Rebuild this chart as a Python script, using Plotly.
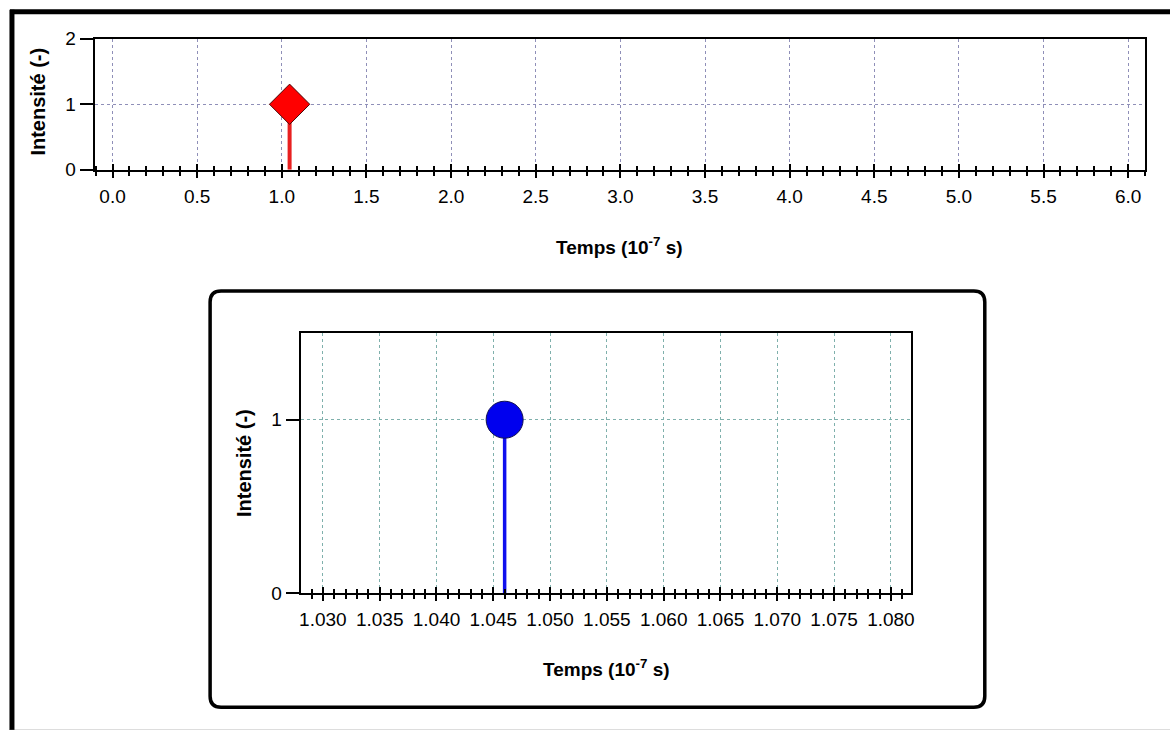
import plotly.graph_objects as go

# ---- data ----
top_time = [1.046]          # 10^-7 s
top_intensity = [1.0]
inset_time = [1.046]
inset_intensity = [1.0]

x_title = "Temps (10<sup>-7</sup> s)"
y_title = "Intensité (-)"

W, H = 1173, 745
def px(x):
    return x / W
def py(y):
    # target screen y (pixels from top) -> paper fraction
    yin = (y - 8.3) / 0.971
    return 1 - yin / H

FONT = "Liberation Sans, Arial, sans-serif"
top_grid = "#8f8fb8"
inset_grid = "#7fb0ac"

fig = go.Figure()

# stems (built from data)
for t, v in zip(top_time, top_intensity):
    fig.add_trace(go.Scatter(x=[t, t], y=[0, v], mode="lines",
                             line=dict(color="#e82020", width=4),
                             xaxis="x", yaxis="y", showlegend=False, hoverinfo="skip"))
fig.add_trace(go.Scatter(x=top_time, y=top_intensity, mode="markers",
                         marker=dict(symbol="diamond", size=31, color="#ff0000",
                                     line=dict(color="#4a0808", width=1)),
                         xaxis="x", yaxis="y", showlegend=False))

for t, v in zip(inset_time, inset_intensity):
    fig.add_trace(go.Scatter(x=[t, t], y=[0, v], mode="lines",
                             line=dict(color="#1010ee", width=3.5),
                             xaxis="x2", yaxis="y2", showlegend=False, hoverinfo="skip"))
fig.add_trace(go.Scatter(x=inset_time, y=inset_intensity, mode="markers",
                         marker=dict(symbol="circle", size=37, color="#0000ee",
                                     line=dict(color="#101050", width=1)),
                         xaxis="x2", yaxis="y2", showlegend=False))

# placeholder traces for the overlay tick axes (inner half of crossing ticks)
fig.add_trace(go.Scatter(x=[None], y=[None], xaxis="x3", yaxis="y", showlegend=False))
fig.add_trace(go.Scatter(x=[None], y=[None], xaxis="x4", yaxis="y2", showlegend=False))

top_xrange = [-0.106, 6.1]
inset_xrange = [1.02805, 1.08178]

tickfont = dict(family=FONT, size=19, color="black")

fig.update_layout(
    width=W, height=H,
    margin=dict(l=0, r=0, t=0, b=0),
    paper_bgcolor="white", plot_bgcolor="white",
    showlegend=False,
    xaxis=dict(domain=[px(93), px(1148)], range=top_xrange, anchor="y",
               tick0=0, dtick=0.5, tickformat=".1f",
               ticks="outside", ticklen=6, tickwidth=2, tickcolor="black",
               minor=dict(ticks="outside", ticklen=4, tickwidth=2, dtick=0.1, tick0=0,
                          tickcolor="black", showgrid=False),
               showline=True, linewidth=2, linecolor="black", mirror=True,
               showgrid=True, gridcolor=top_grid, griddash="dot", gridwidth=1,
               zeroline=False, tickfont=tickfont, ticklabelstandoff=2),
    yaxis=dict(domain=[py(168), py(37)], range=[0, 2], anchor="x",
               tick0=0, dtick=1,
               ticks="outside", ticklen=13, tickwidth=2, tickcolor="black",
               showline=True, linewidth=2, linecolor="black", mirror=True,
               showgrid=True, gridcolor=top_grid, griddash="dot", gridwidth=1,
               zeroline=False, tickfont=tickfont),
    xaxis3=dict(overlaying="x", anchor="y", range=top_xrange,
                tick0=0, dtick=0.5, ticks="inside", ticklen=6, tickwidth=2, tickcolor="black",
                minor=dict(ticks="inside", ticklen=4, tickwidth=2, dtick=0.1, tick0=0,
                           tickcolor="black", showgrid=False),
                showticklabels=False, showline=False, showgrid=False, zeroline=False),
    xaxis2=dict(domain=[px(300), px(913)], range=inset_xrange, anchor="y2",
                tick0=1.03, dtick=0.005, tickformat=".3f",
                ticks="outside", ticklen=6, tickwidth=2, tickcolor="black",
                minor=dict(ticks="outside", ticklen=4, tickwidth=2, dtick=0.001, tick0=1.03,
                           tickcolor="black", showgrid=False),
                showline=True, linewidth=2, linecolor="black", mirror=True,
                showgrid=True, gridcolor=inset_grid, griddash="dot", gridwidth=1,
                zeroline=False, tickfont=tickfont, ticklabelstandoff=2),
    yaxis2=dict(domain=[py(591), py(331)], range=[0, 1.5], anchor="x2",
                tickvals=[0, 1], ticktext=["0", "1"],
                ticks="outside", ticklen=13, tickwidth=2, tickcolor="black",
                showline=True, linewidth=2, linecolor="black", mirror=True,
                showgrid=True, gridcolor=inset_grid, griddash="dot", gridwidth=1,
                zeroline=False, tickfont=tickfont),
    xaxis4=dict(overlaying="x2", anchor="y2", range=inset_xrange,
                tick0=1.03, dtick=0.005, ticks="inside", ticklen=6, tickwidth=2, tickcolor="black",
                minor=dict(ticks="inside", ticklen=4, tickwidth=2, dtick=0.001, tick0=1.03,
                           tickcolor="black", showgrid=False),
                showticklabels=False, showline=False, showgrid=False, zeroline=False),
)

xt_font = dict(family=FONT, size=19, color="black")
yt_font = dict(family=FONT, size=20, color="black")
anns = [
    dict(x=px(620), y=py(244), text="<b>" + x_title + "</b>", textangle=0, font=xt_font),
    dict(x=px(607), y=py(666), text="<b>" + x_title + "</b>", textangle=0, font=xt_font),
    dict(x=px(36), y=py(100), text="<b>" + y_title + "</b>", textangle=-90, font=yt_font),
    dict(x=px(243), y=py(461), text="<b>" + y_title + "</b>", textangle=-90, font=yt_font),
]
for a in anns:
    fig.add_annotation(xref="paper", yref="paper", showarrow=False,
                       xanchor="center", yanchor="middle", **a)

# outer frame
fig.add_shape(type="line", xref="paper", yref="paper",
              x0=px(8), x1=1, y0=py(10), y1=py(10), line=dict(color="black", width=5))
fig.add_shape(type="line", xref="paper", yref="paper",
              x0=px(10), x1=px(10), y0=py(8), y1=py(729), line=dict(color="black", width=5))
fig.add_shape(type="line", xref="paper", yref="paper",
              x0=px(8), x1=1, y0=py(728.5), y1=py(728.5), line=dict(color="#777777", width=2))

# inset rounded box
L, R, T, B, r = 209, 987, 289, 705, 11
path = (f"M {px(L + r)},{py(T)} L {px(R - r)},{py(T)} Q {px(R)},{py(T)} {px(R)},{py(T + r)} "
        f"L {px(R)},{py(B - r)} Q {px(R)},{py(B)} {px(R - r)},{py(B)} "
        f"L {px(L + r)},{py(B)} Q {px(L)},{py(B)} {px(L)},{py(B - r)} "
        f"L {px(L)},{py(T + r)} Q {px(L)},{py(T)} {px(L + r)},{py(T)} Z")
fig.add_shape(type="path", xref="paper", yref="paper", path=path,
              line=dict(color="black", width=3.5))

post = ("document.body.style.margin='0px';document.body.style.overflow='hidden';"
        "var d=document.getElementById('{plot_id}');"
        "d.style.position='fixed';d.style.left='0px';d.style.top='0px';")
fig.write_html("out.html", config={"displayModeBar": False}, post_script=post)
